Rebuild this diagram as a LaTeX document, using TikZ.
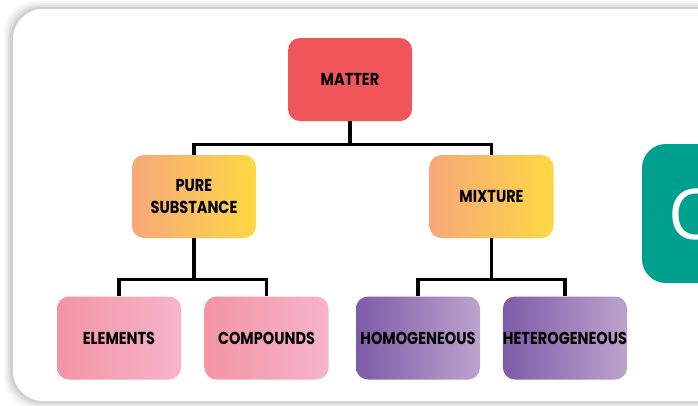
\documentclass[tikz,border=0pt]{standalone}
\usepackage{fontspec}
\usepackage{xcolor}
\usepackage{tikz}
\usetikzlibrary{positioning, calc}
\newfontfamily\boxfont{Poppins}[FakeStretch=0.84]
\newfontfamily\bigfont{Open Sans}
\definecolor{MatterRed}{RGB}{240, 85, 90}
\definecolor{PeachLeft}{RGB}{247, 168, 122}
\definecolor{YellowRight}{RGB}{254, 216, 67}
\definecolor{PinkLeft}{RGB}{243, 148, 162}
\definecolor{PinkRight}{RGB}{246, 180, 204}
\definecolor{PurpleLeft}{RGB}{126, 91, 166}
\definecolor{PurpleRight}{RGB}{189, 162, 206}
\definecolor{NextTeal}{RGB}{0, 160, 143}

\begin{document}
\begin{tikzpicture}[x=1pt, y=-1pt,
    box/.style={rounded corners=12pt, minimum width=124pt, minimum height=83pt,
        inner sep=0pt, align=center, font=\boxfont\bfseries\fontsize{17.3}{22}\selectfont},
    warm/.style={box, left color=PeachLeft, right color=YellowRight},
    pink/.style={box, left color=PinkLeft, right color=PinkRight},
    violet/.style={box, left color=PurpleLeft, right color=PurpleRight},
    link/.style={line width=3.3pt, black}]
    % 画布与阴影
    \clip (0,0) rectangle (698,405);
    \fill[white] (0,0) rectangle (698,405);
    \foreach \d/\o in {8/0.03, 6/0.04, 4/0.05, 2/0.07}
        \fill[black, opacity=\o, rounded corners=32pt] (12-\d,9-\d) rectangle (730+\d,401+\d);
    \fill[white, rounded corners=30pt] (13,9) rectangle (730,401);

    % 右侧的下一张卡片
    \fill[NextTeal, rounded corners=24pt] (642,144) rectangle (760,283);
    \node[text=white, font=\bigfont\fontsize{70}{70}\selectfont, anchor=west, inner sep=0pt] (next) at (668,214) {C};

    % 节点
    \node[box, fill=MatterRed] (matter) at (350,79.5) {MATTER};
    \node[warm] (pure) at (194,196.5) {PURE\\SUBSTANCE};
    \node[warm] (mixture) at (491.5,196.5) {MIXTURE};
    \node[pink] (elements) at (119,338) {ELEMENTS};
    \node[pink] (compounds) at (266.5,338) {COMPOUNDS};
    \node[violet] (homo) at (418,338) {HOMOGENEOUS};
    \node[violet] (hetero) at (565,338) {HETEROGENEOUS};

    % 连线
    \draw[link] (matter.south) -- ++(0,23) -| (pure.north);
    \draw[link] (matter.south) -- ++(0,23) -| (mixture.north);
    \draw[link] (pure.south) -- ++(0,41) -| (elements.north);
    \draw[link] (pure.south) -- ++(0,41) -| (compounds.north);
    \draw[link] (mixture.south) -- ++(0,41) -| (homo.north);
    \draw[link] (mixture.south) -- ++(0,41) -| (hetero.north);
\end{tikzpicture}
\end{document}
